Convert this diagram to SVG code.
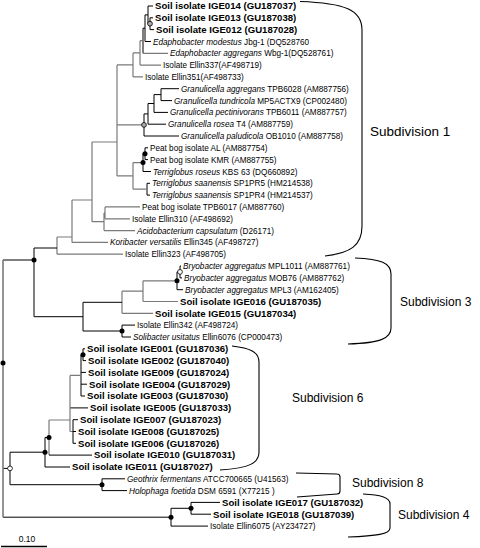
<svg xmlns="http://www.w3.org/2000/svg" width="480" height="548" viewBox="0 0 480 548">
<style>
.t{font-family:"Liberation Sans",Arial,sans-serif;font-size:8.2px;fill:#000}
.b{font-weight:bold;font-size:9.6px}
.i{font-style:italic}
.sub{font-family:"Liberation Sans",Arial,sans-serif;font-size:12px;fill:#000}
.k{fill:none;stroke:#000;stroke-width:1}
.g{fill:none;stroke:#7a7a7a;stroke-width:1.2}
.br{fill:none;stroke:#000;stroke-width:1.1}
.dot{fill:#000}
.oc{fill:#fff;stroke:#000;stroke-width:0.8}
.gc{fill:#aaa;stroke:#000;stroke-width:0.8}
</style>
<rect width="480" height="548" fill="#fff"/>
<g id="connectors">
<path class="k" d="M150 17.8V29.6M150 17.8H153M150 29.6H154M148 6V23.7H150M148 6H153M145 14.9V41.5M145 14.9H148M145 41.5H151M143 28.2V53.3M143 28.2H145"/>
<path class="g" d="M143 53.3H168M140 40.7V65.1M140 40.7H143M140 65.1H161M133 52.9V76.9M133 52.9H140M133 76.9H143"/>
<path class="k" d="M161 88.7V100.6M161 88.7H179M161 100.6H172M154 94.6V112.4M154 94.6H161M154 112.4H168M148 103.5V124.2M148 103.5H154M148 124.2H166M144 113.9V136M144 113.9H148M144 136H179"/>
<path class="k" d="M145 147.8V159.6M145 147.8H148M145 159.6H148M143 153.7V171.5M143 153.7H145M143 171.5H151M147 183.3V195.1M147 183.3H150M147 195.1H150"/>
<path class="g" d="M133 162.6V189.2M133 162.6H143M133 189.2H147M117 64.9V175.9M117 64.9H133M117 124.9H144M117 175.9H133M92 142V221.7M92 142H117"/>
<path class="g" d="M105 206.9V218.8M105 206.9H140M105 218.8H130M104 212.9V230.6M104 212.9H105M104 230.6H135M92 221.7H104"/>
<path class="g" d="M72 200V242.4M72 200H92M72 242.4H108M57 237V254.2M57 237H72M57 254.2H123"/>
<path class="k" d="M34 248V316.7M34 248H57"/>
<path class="k" d="M180 266V277.9M180 266H181M180 277.9H182M177 271.9V289.7M177 271.9H180M177 289.7H183"/>
<path class="g" d="M143 280.8V301.5M143 280.8H177M143 301.5H178M122 291.2V313.3M122 291.2H143M122 313.3H153"/>
<path class="k" d="M122 325.1V337M122 325.1H135M122 337H131M83 302.3V331M83 302.3H122M83 331H122M34 316.7H83"/>
<path class="k" d="M83 348.8V360.6M83 348.8H85M83 360.6H86M81 354.7V396M81 354.7H83M81 372.4H86M81 384.2H87M81 396H85M70 407.9H88"/>
<path class="g" d="M70 375.4V431.5M70 375.4H81M70 431.5H73"/>
<path class="k" d="M73 419.7V443.3M73 419.7H78M73 431.5H76M73 443.3H76"/>
<path class="g" d="M49 420V455.1M49 420H70"/>
<path class="k" d="M49 455.1H92M45 437.5V467M45 437.5H49M45 467H70"/>
<path class="k" d="M102 478.8V490.6M102 478.8H125M102 490.6H127M10 452.2V484.7M10 452.2H45M10 484.7H102"/>
<path class="k" d="M191 502.4V514.2M191 502.4H220M191 514.2H211M171 508.3V526.1M171 508.3H191M171 526.1H208"/>
<path class="k" d="M3 260H34M3 468.4H10M3 517.2H171"/>
<path class="g" d="M3 260V517.2" style="stroke-width:1.6"/>
</g>
<g id="node-markers">
<circle class="gc" cx="150" cy="23.7" r="2.4"/>
<circle class="gc" cx="144" cy="124.9" r="2.4"/>
<circle class="dot" cx="145" cy="153.7" r="2.5"/>
<circle class="dot" cx="143" cy="162.6" r="2.5"/>
<circle class="oc" cx="180" cy="271.9" r="2.4"/>
<circle class="dot" cx="177" cy="280.8" r="2.5"/>
<circle class="dot" cx="122" cy="331" r="2.5"/>
<circle class="dot" cx="34" cy="260" r="2.5"/>
<circle class="dot" cx="3" cy="363" r="2.5"/>
<circle class="dot" cx="83" cy="354.7" r="2.5"/>
<circle class="dot" cx="49" cy="437.5" r="2.5"/>
<circle class="dot" cx="45" cy="452.2" r="2.5"/>
<circle class="oc" cx="10" cy="468.4" r="2.4"/>
<circle class="dot" cx="102" cy="484.7" r="2.5"/>
<circle class="dot" cx="191" cy="508.3" r="2.5"/>
<circle class="dot" cx="171" cy="517.2" r="2.5"/>
</g>
<g id="leaf-IGE014"><text class="t b" x="155" y="9.3">Soil isolate IGE014 (GU187037)</text></g>
<g id="leaf-IGE013"><text class="t b" x="155" y="21.1">Soil isolate IGE013 (GU187038)</text></g>
<g id="leaf-IGE012"><text class="t b" x="156" y="32.9">Soil isolate IGE012 (GU187028)</text></g>
<g id="leaf-Emodestus"><text class="t" x="153" y="44.5"><tspan class="i">Edaphobacter modestus</tspan> Jbg-1 (DQ528760</text></g>
<g id="leaf-Eaggregans"><text class="t" x="170" y="56.3"><tspan class="i">Edaphobacter aggregans</tspan> Wbg-1(DQ528761)</text></g>
<g id="leaf-Ellin337"><text class="t" x="163" y="68.1">Isolate Ellin337(AF498719)</text></g>
<g id="leaf-Ellin351"><text class="t" x="145" y="79.9">Isolate Ellin351(AF498733)</text></g>
<g id="leaf-Gaggregans"><text class="t" x="181" y="91.7"><tspan class="i">Granulicella aggregans</tspan> TPB6028 (AM887756)</text></g>
<g id="leaf-Gtundricola"><text class="t" x="174" y="103.6"><tspan class="i">Granulicella tundricola</tspan> MP5ACTX9 (CP002480)</text></g>
<g id="leaf-Gpectinivorans"><text class="t" x="170" y="115.4"><tspan class="i">Granulicella pectinivorans</tspan> TPB6011 (AM887757)</text></g>
<g id="leaf-Grosea"><text class="t" x="168" y="127.2"><tspan class="i">Granulicella rosea</tspan> T4 (AM887759)</text></g>
<g id="leaf-Gpaludicola"><text class="t" x="181" y="139"><tspan class="i">Granulicella paludicola</tspan> OB1010 (AM887758)</text></g>
<g id="leaf-PeatAL"><text class="t" x="150" y="150.8">Peat bog isolate AL (AM887754)</text></g>
<g id="leaf-PeatKMR"><text class="t" x="150" y="162.6">Peat bog isolate KMR (AM887755)</text></g>
<g id="leaf-Troseus"><text class="t" x="153" y="174.5"><tspan class="i">Terriglobus roseus</tspan> KBS 63 (DQ660892)</text></g>
<g id="leaf-TsaanensisPR5"><text class="t" x="152" y="186.3"><tspan class="i">Terriglobus saanensis</tspan> SP1PR5 (HM214538)</text></g>
<g id="leaf-TsaanensisPR4"><text class="t" x="152" y="198.1"><tspan class="i">Terriglobus saanensis</tspan> SP1PR4 (HM214537)</text></g>
<g id="leaf-TPB6017"><text class="t" x="142" y="209.9">Peat bog isolate TPB6017 (AM887760)</text></g>
<g id="leaf-Ellin310"><text class="t" x="132" y="221.8">Isolate Ellin310 (AF498692)</text></g>
<g id="leaf-Acapsulatum"><text class="t" x="137" y="233.6"><tspan class="i">Acidobacterium capsulatum</tspan> (D26171)</text></g>
<g id="leaf-Koribacter"><text class="t" x="110" y="245.4"><tspan class="i">Koribacter versatilis</tspan> Ellin345 (AF498727)</text></g>
<g id="leaf-Ellin323"><text class="t" x="125" y="257.2">Isolate Ellin323 (AF498705)</text></g>
<g id="leaf-BryoMPL1011"><text class="t" x="183" y="269"><tspan class="i">Bryobacter aggregatus</tspan> MPL1011 (AM887761)</text></g>
<g id="leaf-BryoMOB76"><text class="t" x="184" y="280.9"><tspan class="i">Bryobacter aggregatus</tspan> MOB76 (AM887762)</text></g>
<g id="leaf-BryoMPL3"><text class="t" x="185" y="292.7"><tspan class="i">Bryobacter aggregatus</tspan> MPL3 (AM162405)</text></g>
<g id="leaf-IGE016"><text class="t b" x="180" y="304.8">Soil isolate IGE016 (GU187035)</text></g>
<g id="leaf-IGE015"><text class="t b" x="155" y="316.6">Soil isolate IGE015 (GU187034)</text></g>
<g id="leaf-Ellin342"><text class="t" x="137" y="328.1">Isolate Ellin342 (AF498724)</text></g>
<g id="leaf-Solibacter"><text class="t" x="133" y="340"><tspan class="i">Solibacter usitatus</tspan> Ellin6076 (CP000473)</text></g>
<g id="leaf-IGE001"><text class="t b" x="87" y="352.1">Soil isolate IGE001 (GU187036)</text></g>
<g id="leaf-IGE002"><text class="t b" x="88" y="363.9">Soil isolate IGE002 (GU187040)</text></g>
<g id="leaf-IGE009"><text class="t b" x="88" y="375.7">Soil isolate IGE009 (GU187024)</text></g>
<g id="leaf-IGE004"><text class="t b" x="89" y="387.5">Soil isolate IGE004 (GU187029)</text></g>
<g id="leaf-IGE003"><text class="t b" x="87" y="399.3">Soil isolate IGE003 (GU187030)</text></g>
<g id="leaf-IGE005"><text class="t b" x="90" y="411.2">Soil isolate IGE005 (GU187033)</text></g>
<g id="leaf-IGE007"><text class="t b" x="80" y="423">Soil isolate IGE007 (GU187023)</text></g>
<g id="leaf-IGE008"><text class="t b" x="78" y="434.8">Soil isolate IGE008 (GU187025)</text></g>
<g id="leaf-IGE006"><text class="t b" x="78" y="446.6">Soil isolate IGE006 (GU187026)</text></g>
<g id="leaf-IGE010"><text class="t b" x="94" y="458.4">Soil isolate IGE010 (GU187031)</text></g>
<g id="leaf-IGE011"><text class="t b" x="72" y="470.3">Soil isolate IGE011 (GU187027)</text></g>
<g id="leaf-Geothrix"><text class="t" x="127" y="481.8"><tspan class="i">Geothrix fermentans</tspan> ATCC700665 (U41563)</text></g>
<g id="leaf-Holophaga"><text class="t" x="129" y="493.6"><tspan class="i">Holophaga foetida</tspan> DSM 6591 (X77215 )</text></g>
<g id="leaf-IGE017"><text class="t b" x="222" y="505.7">Soil isolate IGE017 (GU187032)</text></g>
<g id="leaf-IGE018"><text class="t b" x="213" y="517.5">Soil isolate IGE018 (GU187039)</text></g>
<g id="leaf-Ellin6075"><text class="t" x="210" y="529.1">Isolate Ellin6075 (AY234727)</text></g>
<g id="brace-sub1"><path class="br" d="M300 1.5C345 3 362 10 362 30L362 226C362 246 350 253 325 256"/><text class="sub" x="370" y="136" style="font-size:13.5px">Subdivision 1</text></g>
<g id="brace-sub3"><path class="br" d="M355 258C381 259 391 263 391 274L391 328C391 338 381 343 348 344"/><text class="sub" x="400" y="306">Subdivision 3</text></g>
<g id="brace-sub6"><path class="br" d="M232 346C250 348 259 352 259 362L259 452C259 463 250 468 220 470"/><text class="sub" x="292" y="402">Subdivision 6</text></g>
<g id="brace-sub8"><path class="br" d="M296 473L337 474Q340 474 340 477L340 491Q340 494 337 494L297 497"/><text class="sub" x="352" y="487">Subdivision 8</text></g>
<g id="brace-sub4"><path class="br" d="M363 494C380 495 390 497 390 504L390 528C390 534 377 536 348 537"/><text class="sub" x="398" y="519">Subdivision 4</text></g>
<g id="scale"><text class="t" x="27" y="542" text-anchor="middle" style="font-size:8.5px">0.10</text><path d="M1 546.5H47" stroke="#000" stroke-width="1.5"/></g>
</svg>
